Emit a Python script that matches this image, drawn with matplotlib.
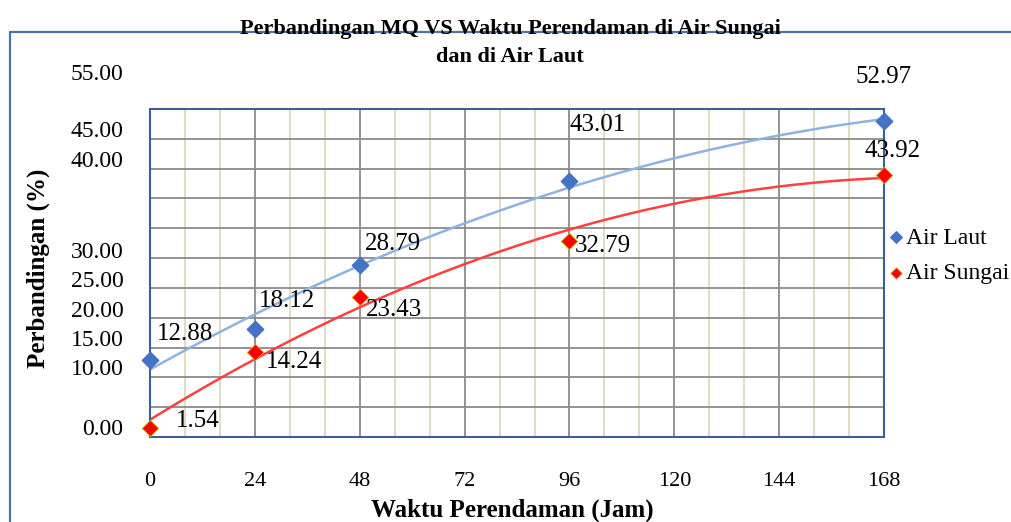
import numpy as np
import matplotlib
matplotlib.use('Agg')
import matplotlib.pyplot as plt
from matplotlib.lines import Line2D

# Data
waktu = [0, 24, 48, 96, 168]
air_laut = [12.88, 18.12, 28.79, 43.01, 52.97]
air_sungai = [1.54, 14.24, 23.43, 32.79, 43.92]
x_ticks = [0, 24, 48, 72, 96, 120, 144, 168]

# y tick labels as shown in the picture (they sit a bit off their gridlines)
y_labels = ['55.00', '45.00', '40.00', '30.00', '25.00', '20.00', '15.00', '10.00', '0.00']
y_label_pos = [60.8, 51.3, 46.2, 30.9, 26.1, 21.0, 16.1, 11.4, 1.2]

# label offsets in points (dx, dy) for each data label
laut_offsets = [(25, 19), (23, 20), (24, 15), (20, 40), (0, 32)]
sungai_offsets = [(34, 5), (28, -7), (25, -9), (24, -3), (6, 17)]

plt.rcParams['font.family'] = ['Liberation Serif', 'DejaVu Serif']

fig = plt.figure(figsize=(10.11, 5.22), dpi=100)
ax = fig.add_axes([0.1484, 0.1628, 0.726, 0.6284])

# outer chart frame
frame_col = '#4f72a8'
fig.add_artist(Line2D([0.0099, 0.0099, 1.01], [-0.01, 0.9387, 0.9387],
                      transform=fig.transFigure, color=frame_col, lw=1.6))

# grid
for xv in np.arange(0, 169, 8):
    if xv % 24 == 0:
        ax.axvline(xv, color='#8a8a8a', lw=1.3, zorder=1)
    else:
        ax.axvline(xv, color='#dcd6b8', lw=1.2, zorder=0.5)
for yv in np.arange(0, 56, 5):
    ax.axhline(yv, color='#8a8a8a', lw=1.3, zorder=1)

# trendlines (2nd order polynomial)
xs = np.linspace(0, 168, 200)
p_laut = np.polyfit(waktu, air_laut, 2)
p_sungai = np.polyfit(waktu, air_sungai, 2)
ax.plot(xs, np.polyval(p_laut, xs), color='#8db3e2', lw=1.8, zorder=2)
ax.plot(xs, np.polyval(p_sungai, xs), color='#ff4040', lw=1.8, zorder=2)

# points
ax.scatter(waktu, air_laut, marker='D', s=70, color='#4472c4', zorder=4,
           clip_on=False, label='Air Laut')
ax.scatter(waktu, air_sungai, marker='D', s=70, color='#ff0000', edgecolor='#c8b400',
           linewidth=0.6, zorder=4, clip_on=False, label='Air Sungai')

for xv, yv, off in zip(waktu, air_laut, laut_offsets):
    ax.annotate(f'{yv:.2f}', (xv, yv), xytext=off, textcoords='offset points',
                ha='center', va='center', fontsize=18, zorder=5)
for xv, yv, off in zip(waktu, air_sungai, sungai_offsets):
    ax.annotate(f'{yv:.2f}', (xv, yv), xytext=off, textcoords='offset points',
                ha='center', va='center', fontsize=18, zorder=5)

ax.set_xlim(0, 168)
ax.set_ylim(0, 55)
ax.set_xticks(x_ticks)
ax.set_xticklabels([str(t) for t in x_ticks], fontsize=16)
ax.tick_params(axis='x', length=0, pad=25)
ax.set_yticks([])
for spine in ax.spines.values():
    spine.set_color('#3d5f94')
    spine.set_linewidth(1.5)

for lab, pos in zip(y_labels, y_label_pos):
    ax.text(-0.036, pos, lab, transform=ax.get_yaxis_transform(), ha='right',
            va='center', fontsize=17, clip_on=False)

fig.text(0.5045, 0.918, 'Perbandingan MQ VS Waktu Perendaman di Air Sungai\ndan di Air Laut',
         ha='center', va='center', fontsize=16, fontweight='bold', linespacing=1.55)
fig.text(0.0376, 0.4866, 'Perbandingan (%)', rotation=90, ha='center', va='center',
         fontsize=18, fontweight='bold')
fig.text(0.5064, 0.023, 'Waktu Perendaman (Jam)', ha='center', va='center',
         fontsize=18, fontweight='bold')

ax.legend(loc='upper left', bbox_to_anchor=(0.879, 0.565), bbox_transform=fig.transFigure,
          frameon=False, fontsize=17, handletextpad=0.15, handlelength=0.6,
          borderaxespad=0, borderpad=0, labelspacing=0.6, markerscale=0.7)

fig.savefig('out.png', dpi=100)
